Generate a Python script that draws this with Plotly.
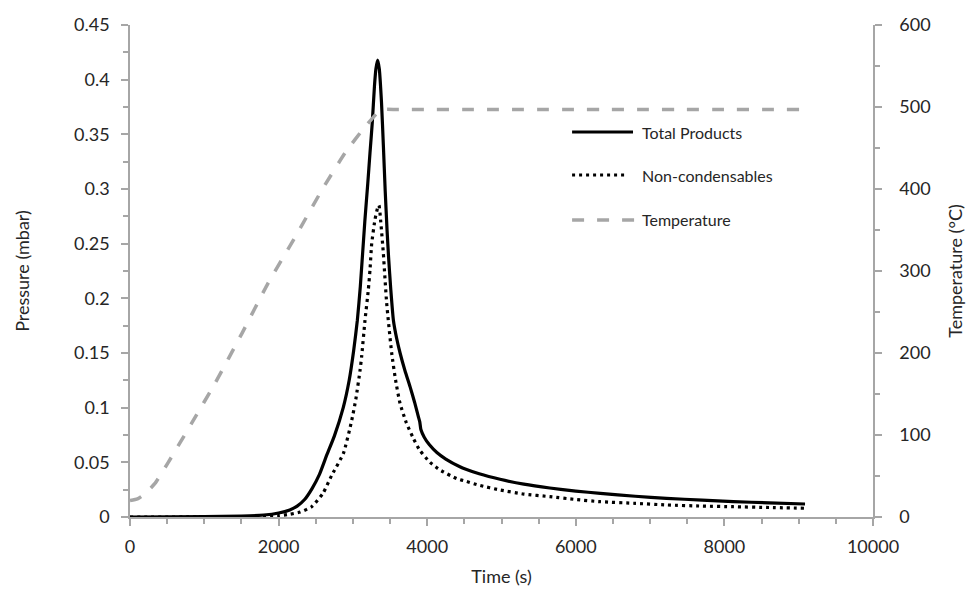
import plotly.graph_objects as go

# ---- data ----
time_total = [0, 1000, 1500, 1800, 2000, 2150, 2250, 2350, 2450, 2550, 2650, 2750, 2870,
              2950, 3010, 3060, 3100, 3160, 3200, 3230, 3260, 3290, 3310, 3333, 3355, 3385,
              3410, 3435, 3460, 3480, 3510, 3545, 3590, 3635, 3700, 3770, 3830, 3880, 3900,
              3915, 3960, 4030, 4130, 4250, 4440, 4530, 4700, 4980, 5300, 5650, 6000, 6330,
              6800, 7220, 7700, 8120, 8600, 9085]
p_total = [0, 0.0003, 0.0008, 0.0018, 0.0037, 0.0065, 0.010, 0.016, 0.026, 0.039, 0.057,
           0.074, 0.100, 0.125, 0.152, 0.180, 0.211, 0.270, 0.305, 0.333, 0.360, 0.394,
           0.410, 0.418, 0.410, 0.379, 0.340, 0.298, 0.262, 0.238, 0.208, 0.180, 0.163,
           0.150, 0.134, 0.119, 0.105, 0.092, 0.087, 0.080, 0.073, 0.066, 0.059, 0.053,
           0.046, 0.0435, 0.0395, 0.0345, 0.030, 0.0265, 0.0237, 0.0216, 0.019, 0.017,
           0.0155, 0.014, 0.013, 0.0119]

time_nc = [0, 1500, 2000, 2150, 2290, 2445, 2600, 2714, 2871, 2983, 3040, 3096, 3118, 3163,
           3208, 3230, 3253, 3297, 3330, 3351, 3375, 3410, 3454, 3522, 3575, 3634, 3720,
           3813, 3900, 4038, 4172, 4400, 4530, 4700, 4980, 5300, 5650, 6000, 6326, 6800,
           7223, 7700, 8120, 8600, 9085]
p_nc = [0, 0.0002, 0.0012, 0.0025, 0.0045, 0.0094, 0.022, 0.038, 0.058, 0.088, 0.108,
        0.134, 0.147, 0.180, 0.208, 0.226, 0.250, 0.272, 0.282, 0.285, 0.270, 0.241,
        0.196, 0.150, 0.125, 0.104, 0.086, 0.072, 0.061, 0.050, 0.043, 0.035, 0.0325,
        0.029, 0.0247, 0.021, 0.0186, 0.016, 0.014, 0.0125, 0.011, 0.010, 0.0094, 0.0087,
        0.008]

time_temp = [0, 100, 200, 336, 511, 834, 1144, 1507, 1857, 2221, 2584, 2894, 3163, 3250,
             3330, 3400, 3600, 9085]
temp = [20, 22, 28, 41, 66, 115, 163, 224, 285, 341, 399, 444, 476, 485, 493, 497, 497, 497]

names = ["Total Products", "Non-condensables", "Temperature"]

FONT = "Lato"
TXT = "#262626"
AX = "#a6a6a6"
FS = 18

fig = go.Figure()
fig.add_trace(go.Scatter(x=time_temp, y=temp, yaxis="y2", mode="lines", name=names[2],
                         line=dict(color="#a6a6a6", width=3.5, dash="12px,13px",
                                   shape="spline", smoothing=0.4)))
fig.add_trace(go.Scatter(x=time_total, y=p_total, mode="lines", name=names[0],
                         line=dict(color="black", width=3.2, shape="spline", smoothing=0.5)))
fig.add_trace(go.Scatter(x=time_nc, y=p_nc, mode="lines", name=names[1],
                         line=dict(color="black", width=3.2, dash="3px,4px",
                                   shape="spline", smoothing=0.5)))

# custom legend (paper coordinates)
leg_rows = [(0.7825, dict(color="black", width=3), 0.677),
            (0.695, dict(color="black", width=3, dash="3px,4px"), 0.670),
            (0.6037, dict(color="#a6a6a6", width=3.5, dash="12px,13px"), 0.680)]
for (yy, ln, x1), nm in zip(leg_rows, names):
    fig.add_shape(type="line", xref="paper", yref="paper", x0=0.595, x1=x1, y0=yy, y1=yy,
                  line=ln)
    fig.add_annotation(xref="paper", yref="paper", x=0.686, y=yy, text=nm, showarrow=False,
                       xanchor="left", yanchor="middle",
                       font=dict(family=FONT, size=16, color=TXT))

fig.update_layout(
    width=967, height=594,
    margin=dict(l=130, r=94, t=25, b=77),
    paper_bgcolor="white", plot_bgcolor="white",
    showlegend=False,
    font=dict(family=FONT, size=FS, color=TXT),
    xaxis=dict(range=[0, 10000], dtick=2000, tick0=0, tickformat="d", automargin=False,
               showgrid=False, zeroline=False, showline=True, linecolor=AX, linewidth=1.5,
               ticks="outside", ticklen=7, tickcolor=AX, tickwidth=1.5, ticklabelstandoff=6,
               minor=dict(dtick=500, ticks="outside", ticklen=5, tickcolor=AX, tickwidth=1.5),
               title=dict(text="Time (s)", standoff=14,
                          font=dict(family=FONT, size=FS, color=TXT))),
    yaxis=dict(range=[0, 0.45], dtick=0.05, tick0=0, automargin=False,
               showgrid=False, zeroline=False, showline=True, linecolor=AX, linewidth=1.5,
               ticks="outside", ticklen=7, tickcolor=AX, tickwidth=1.5, ticklabelstandoff=8,
               minor=dict(dtick=0.025, ticks="outside", ticklen=5, tickcolor=AX, tickwidth=1.5),
               title=dict(text="Pressure (mbar)", standoff=40,
                          font=dict(family=FONT, size=FS, color=TXT))),
    yaxis2=dict(range=[0, 600], dtick=100, tick0=0, overlaying="y", side="right",
                automargin=False,
                showgrid=False, zeroline=False, showline=True, linecolor=AX, linewidth=1.5,
                ticks="outside", ticklen=7, tickcolor=AX, tickwidth=1.5, ticklabelstandoff=14,
                minor=dict(dtick=50, ticks="outside", ticklen=5, tickcolor=AX, tickwidth=1.5),
                title=dict(text="Temperature (°C)", standoff=20,
                           font=dict(family=FONT, size=FS, color=TXT))),
)

fig.write_html("out.html")
